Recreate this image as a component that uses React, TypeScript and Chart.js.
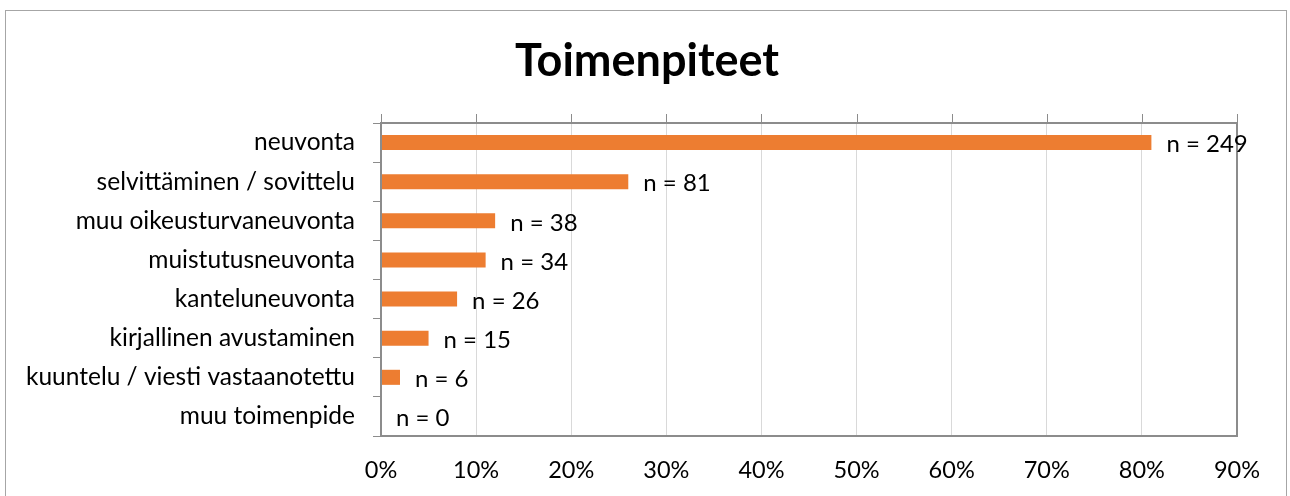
import React, { useEffect, useRef } from "react";
import { Chart, registerables } from "chart.js";

Chart.register(...registerables);

const chartTitle = "Toimenpiteet";
const categories = [
  "neuvonta",
  "selvittäminen / sovittelu",
  "muu oikeusturvaneuvonta",
  "muistutusneuvonta",
  "kanteluneuvonta",
  "kirjallinen avustaminen",
  "kuuntelu / viesti vastaanotettu",
  "muu toimenpide",
];
const percentValues = [81, 26, 12, 11, 8, 5, 2, 0];
const counts = [249, 81, 38, 34, 26, 15, 6, 0];
const xMin = 0;
const xMax = 90;
const xStep = 10;

const FONT = "Lato";

const decorPlugin = {
  id: "decor",
  beforeDraw(chart: any) {
    const ctx = chart.ctx;
    ctx.save();
    ctx.strokeStyle = "#a6a6a6";
    ctx.lineWidth = 1;
    ctx.strokeRect(5.5, 10.5, 1281, 520);
    ctx.fillStyle = "#000";
    ctx.font = `bold 45px ${FONT}`;
    ctx.textAlign = "center";
    ctx.textBaseline = "alphabetic";
    ctx.fillText(chartTitle, 647, 76);
    ctx.restore();
  },
  afterDatasetsDraw(chart: any) {
    const ctx = chart.ctx;
    const a = chart.chartArea;
    const xs = chart.scales.x;
    ctx.save();
    ctx.strokeStyle = "#8c8c8c";
    ctx.lineWidth = 1;
    for (let v = xMin; v <= xMax; v += xStep) {
      const px = Math.round(xs.getPixelForValue(v)) + 0.5;
      ctx.beginPath();
      ctx.moveTo(px, a.top - 9);
      ctx.lineTo(px, a.top);
      ctx.stroke();
    }
    ctx.strokeStyle = "#8c8c8c";
    ctx.lineWidth = 2;
    ctx.strokeRect(a.left, a.top, a.right - a.left, a.bottom - a.top);
    const meta = chart.getDatasetMeta(0);
    ctx.fillStyle = "#000";
    ctx.font = `24px ${FONT}`;
    ctx.textAlign = "left";
    ctx.textBaseline = "middle";
    meta.data.forEach((bar: any, i: number) => {
      ctx.fillText(`n = ${counts[i]}`, bar.x + 15, bar.y + 2);
    });
    ctx.restore();
  },
};

export default function App() {
  const ref = useRef<HTMLCanvasElement | null>(null);
  useEffect(() => {
    if (!ref.current) return;
    const chart = new Chart(ref.current, {
      type: "bar",
      data: {
        labels: categories,
        datasets: [
          {
            data: percentValues,
            backgroundColor: "#ED7D31",
            borderWidth: 0,
            barPercentage: 0.385,
            categoryPercentage: 1,
          },
        ],
      },
      options: {
        indexAxis: "y",
        animation: false,
        responsive: true,
        maintainAspectRatio: false,
        devicePixelRatio: 1,
        layout: { padding: { top: 123, right: 53, left: 0, bottom: 0 } },
        plugins: {
          legend: { display: false },
          title: { display: false },
          tooltip: { enabled: false },
        },
        scales: {
          x: {
            min: xMin,
            max: xMax,
            ticks: {
              stepSize: xStep,
              callback: (v: any) => `${v}%`,
              color: "#000",
              font: { family: FONT, size: 23.5 },
              padding: 20,
              maxRotation: 0,
            },
            grid: { color: "#d9d9d9", lineWidth: 1, drawTicks: false },
            border: { display: false },
            afterFit: (s: any) => {
              s.height = 60;
            },
          },
          y: {
            ticks: {
              color: "#000",
              font: { family: FONT, size: 24.5 },
              padding: 18,
            },
            grid: {
              drawOnChartArea: false,
              drawTicks: true,
              tickLength: 8,
              color: "#8c8c8c",
              lineWidth: 1,
            },
            border: { display: false },
            afterFit: (s: any) => {
              s.width = 381;
            },
          },
        },
      },
      plugins: [decorPlugin],
    });
    return () => chart.destroy();
  }, []);
  return (
    <div style={{ position: "fixed", left: 0, top: 0, width: 1290, height: 496, background: "#fff" }}>
      <canvas ref={ref} />
    </div>
  );
}
